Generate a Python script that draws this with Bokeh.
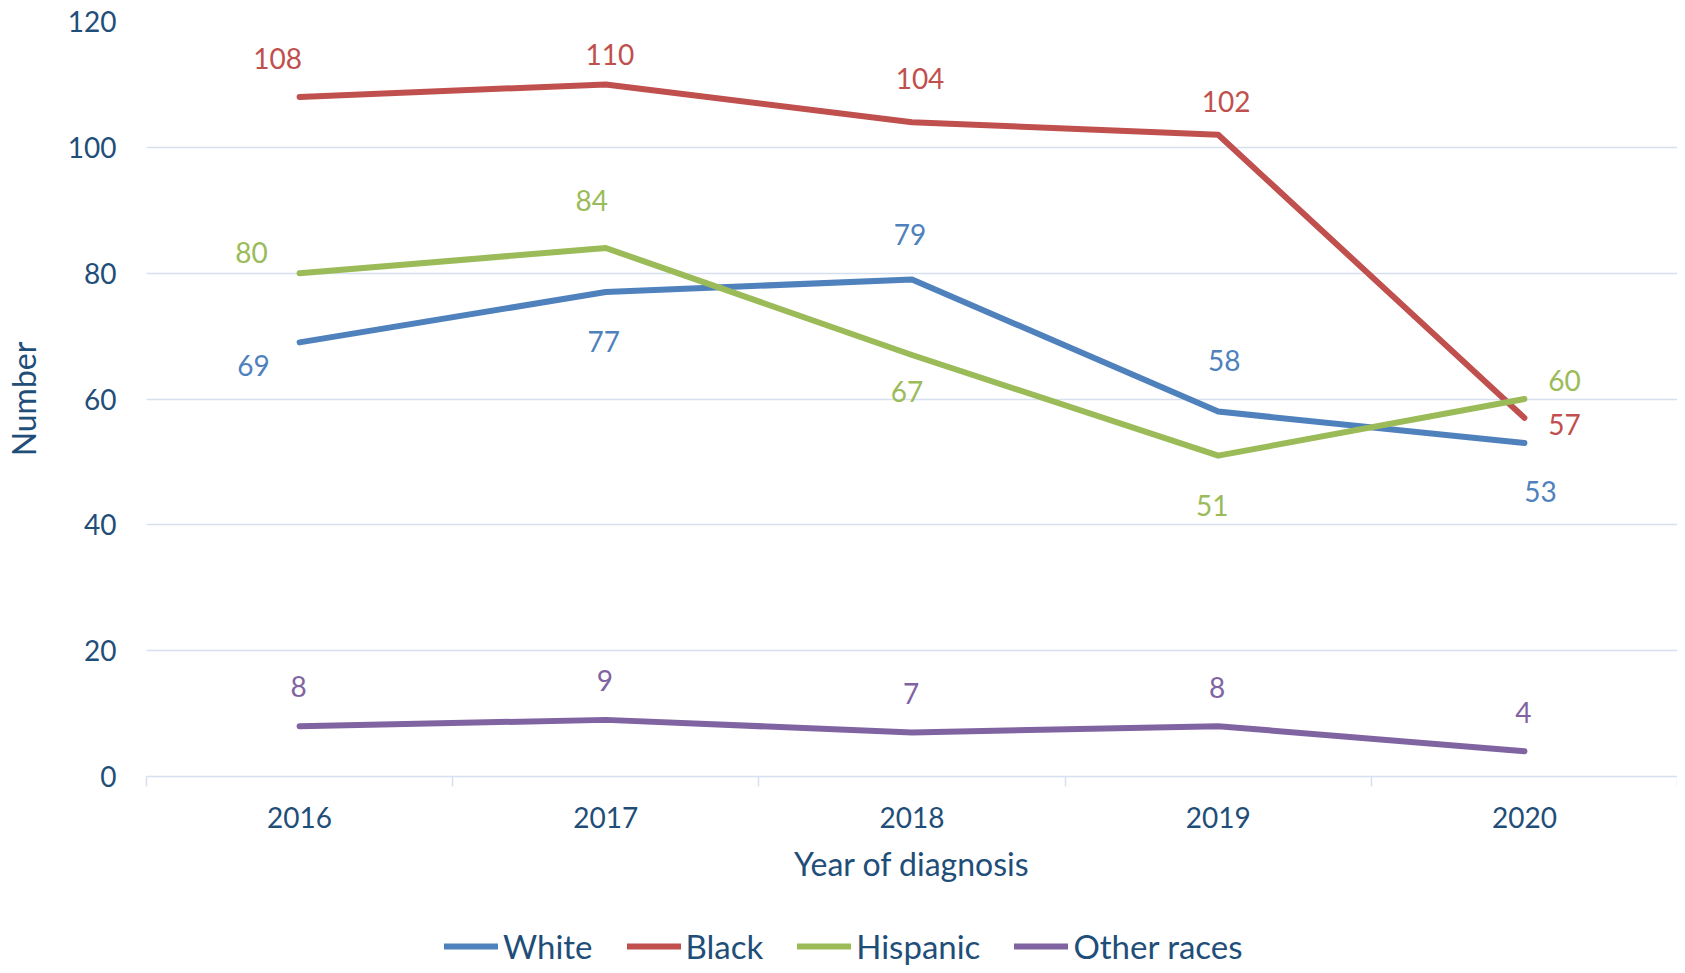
from bokeh.plotting import figure
from bokeh.layouts import column
from bokeh.models import ColumnDataSource, FixedTicker, Legend, LegendItem, Range1d
from bokeh.core.properties import value
from bokeh.embed import file_html
from bokeh.resources import INLINE

years = [2016, 2017, 2018, 2019, 2020]
white = [69, 77, 79, 58, 53]
black = [108, 110, 104, 102, 57]
hispanic = [80, 84, 67, 51, 60]
other = [8, 9, 7, 8, 4]
y_ticks = [0, 20, 40, 60, 80, 100, 120]

FONT = "Lato"
TXT = "#1f4e79"
GRID = "#d6e0f0"
W = 1677

series = [
    ("White", white, "#4f81bd",
     [(-46, 23), (-2, 49), (-2, -45), (6, -51), (16, 48)]),
    ("Black", black, "#c0504d",
     [(-22, -39), (4, -30), (8, -44), (8, -33), (40, 7)]),
    ("Hispanic", hispanic, "#9bbb59",
     [(-48, -21), (-14, -48), (-5, 37), (-6, 50), (40, -19)]),
    ("Other races", other, "#8064a2",
     [(-1, -40), (-1, -39), (-1, -39), (-1, -39), (-1, -39)]),
]

p = figure(width=W, height=885, output_backend="svg", toolbar_location=None,
           x_range=(2015.5, 2020.5), y_range=(0, 120),
           min_border_left=145, min_border_right=0, min_border_top=21,
           min_border_bottom=108)
p.outline_line_color = None
p.background_fill_color = "white"
p.border_fill_color = "white"

# grid
p.xgrid.grid_line_color = None
p.ygrid.grid_line_color = GRID
p.ygrid.grid_line_width = 1.5
p.ygrid.ticker = FixedTicker(ticks=y_ticks)

# y axis
p.yaxis.ticker = FixedTicker(ticks=y_ticks)
p.yaxis.axis_line_color = None
p.yaxis.major_tick_line_color = None
p.yaxis.minor_tick_line_color = None
p.yaxis.major_tick_out = 0
p.yaxis.major_tick_in = 0
p.yaxis.major_label_standoff = 30
p.yaxis.major_label_text_font = FONT
p.yaxis.major_label_text_font_size = "28px"
p.yaxis.major_label_text_color = TXT
p.yaxis.axis_label = "Number"
p.yaxis.axis_label_text_font = FONT
p.yaxis.axis_label_text_font_size = "32px"
p.yaxis.axis_label_text_font_style = "normal"
p.yaxis.axis_label_text_color = TXT
p.yaxis.axis_label_standoff = 22

# x axis
p.xaxis.ticker = FixedTicker(ticks=years,
                             minor_ticks=[2015.5, 2016.5, 2017.5, 2018.5, 2019.5, 2020.5])
p.xaxis.axis_line_color = GRID
p.xaxis.axis_line_width = 1.5
p.xaxis.major_tick_line_color = None
p.xaxis.major_tick_out = 0
p.xaxis.major_tick_in = 0
p.xaxis.minor_tick_line_color = GRID
p.xaxis.minor_tick_line_width = 1.5
p.xaxis.minor_tick_out = 10
p.xaxis.minor_tick_in = 0
p.xaxis.major_label_standoff = 20
p.xaxis.major_label_text_font = FONT
p.xaxis.major_label_text_font_size = "28px"
p.xaxis.major_label_text_color = TXT
p.xaxis.axis_label = "Year of diagnosis"
p.xaxis.axis_label_text_font = FONT
p.xaxis.axis_label_text_font_size = "32px"
p.xaxis.axis_label_text_font_style = "normal"
p.xaxis.axis_label_text_color = TXT
p.xaxis.axis_label_standoff = 13

# legend strip below the chart (same series, lines kept out of view)
p2 = figure(width=W, height=80, output_backend="svg", toolbar_location=None,
            x_axis_type=None, y_axis_type=None,
            x_range=(2015.5, 2020.5), y_range=Range1d(1000, 1001),
            min_border=0, min_border_left=0, min_border_right=0,
            min_border_top=0, min_border_bottom=0)
p2.outline_line_color = None
p2.grid.visible = False
p2.background_fill_color = "white"
p2.border_fill_color = "white"

items = []
for name, vals, color, offs in series:
    src = ColumnDataSource(dict(x=years, y=vals, label=[str(v) for v in vals],
                                dx=[o[0] for o in offs], dy=[o[1] for o in offs]))
    p.line("x", "y", source=src, line_color=color, line_width=6,
           line_cap="round", line_join="round")
    p.text("x", "y", text="label", source=src, x_offset="dx", y_offset="dy",
           text_color=color, text_font=value(FONT), text_font_size="28px",
           text_align="center", text_baseline="middle")
    r2 = p2.line("x", "y", source=src, line_color=color, line_width=6,
                 line_cap="round")
    items.append(LegendItem(label=name, renderers=[r2]))

legend = Legend(items=items, orientation="horizontal", location=(298, -1),
                padding=0, margin=0, spacing=34, glyph_width=54, glyph_height=38,
                label_height=38, label_standoff=5,
                label_text_font=FONT, label_text_font_size="33px",
                label_text_color=TXT, border_line_color=None,
                background_fill_alpha=0)
p2.add_layout(legend, "center")

open("out.html", "w").write(file_html(column(p, p2, spacing=0), INLINE))
